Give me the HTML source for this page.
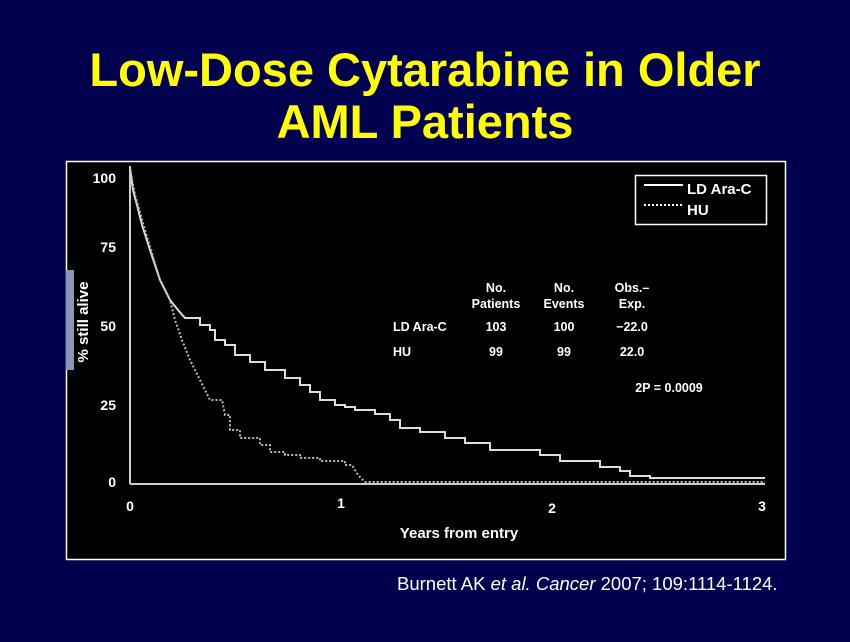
<!DOCTYPE html>
<html><head><style>
body{margin:0;width:850px;height:637px;background:#00004f;overflow:hidden;font-family:"Liberation Sans",Arial,sans-serif}
</style></head><body>
<svg width="850" height="637" xmlns="http://www.w3.org/2000/svg" font-family="Liberation Sans, Arial, sans-serif" font-weight="bold">
<text x="425" y="86" font-size="47" fill="#ffff00" text-anchor="middle">Low-Dose Cytarabine in Older</text>
<text x="425" y="138" font-size="47" fill="#ffff00" text-anchor="middle">AML Patients</text>
<rect x="66.5" y="161.5" width="719" height="398" fill="#000" stroke="#fff" stroke-width="1.5"/>
<rect x="66" y="270" width="8" height="100" fill="#8a96b4"/>
<g stroke="#ccc" stroke-width="2" fill="none">
<line x1="130" y1="166" x2="130" y2="484"/>
<line x1="130" y1="484" x2="765" y2="484"/>
</g>
<g fill="#fff" font-size="14">
<text x="116" y="183" text-anchor="end">100</text>
<text x="116" y="252" text-anchor="end">75</text>
<text x="116" y="331" text-anchor="end">50</text>
<text x="116" y="410" text-anchor="end">25</text>
<text x="116" y="487" text-anchor="end">0</text>
<text x="130" y="511" text-anchor="middle">0</text>
<text x="341" y="508" text-anchor="middle">1</text>
<text x="552" y="513" text-anchor="middle">2</text>
<text x="762" y="511" text-anchor="middle">3</text>
<text x="459" y="538" text-anchor="middle" font-size="15">Years from entry</text>
<text transform="translate(88,322) rotate(-90)" text-anchor="middle" font-size="15">% still alive</text>
</g>
<polyline fill="none" stroke="#ddd" stroke-width="2" points="130,168 133,190 137,205 142,225 150,250 160,280 170,300 178,310 185,318 200,318 200,325 210,325 210,330 215,330 215,340 225,340 225,345 235,345 235,355 250,355 250,362 265,362 265,370 285,370 285,378 300,378 300,385 310,385 310,392 320,392 320,400 335,400 335,405 345,405 345,407 355,407 355,410 375,410 375,414 390,414 390,420 400,420 400,428 420,428 420,432 445,432 445,438 465,438 465,443 490,443 490,450 540,450 540,455 560,455 560,461 600,461 600,467 620,467 620,471 630,471 630,476 650,476 650,478 765,478"/>
<polyline fill="none" stroke="#bbb" stroke-width="2" stroke-dasharray="2,2" points="130,168 135,195 145,230 160,280 170,300 175,320 182,340 190,360 200,380 210,400 222,400 225,415 230,415 230,430 240,430 240,438 260,438 260,445 270,445 270,452 285,452 285,455 300,455 300,458 320,458 320,461 345,461 345,465 352,465 358,475 365,482 765,482"/>
<rect x="635.5" y="175.5" width="131" height="49" fill="none" stroke="#fff" stroke-width="1.5"/>
<line x1="644" y1="185" x2="683" y2="185" stroke="#fff" stroke-width="2"/>
<line x1="644" y1="205" x2="683" y2="205" stroke="#fff" stroke-width="2" stroke-dasharray="2,2"/>
<text x="687" y="194" fill="#fff" font-size="15">LD Ara-C</text>
<text x="687" y="215" fill="#fff" font-size="15">HU</text>
<g fill="#fff" font-size="12.5" text-anchor="middle">
<text x="496" y="292">No.</text><text x="496" y="308">Patients</text>
<text x="564" y="292">No.</text><text x="564" y="308">Events</text>
<text x="632" y="292">Obs.–</text><text x="632" y="308">Exp.</text>
<text x="393" y="331" text-anchor="start">LD Ara-C</text>
<text x="496" y="331">103</text><text x="564" y="331">100</text><text x="632" y="331">−22.0</text>
<text x="393" y="356" text-anchor="start">HU</text>
<text x="496" y="356">99</text><text x="564" y="356">99</text><text x="632" y="356">22.0</text>
<text x="669" y="392">2P = 0.0009</text>
</g>
<text x="397" y="590" fill="#fff" font-size="18.5" font-weight="normal">Burnett AK <tspan font-style="italic">et al. Cancer</tspan> 2007; 109:1114-1124.</text>
</svg>
</body></html>
